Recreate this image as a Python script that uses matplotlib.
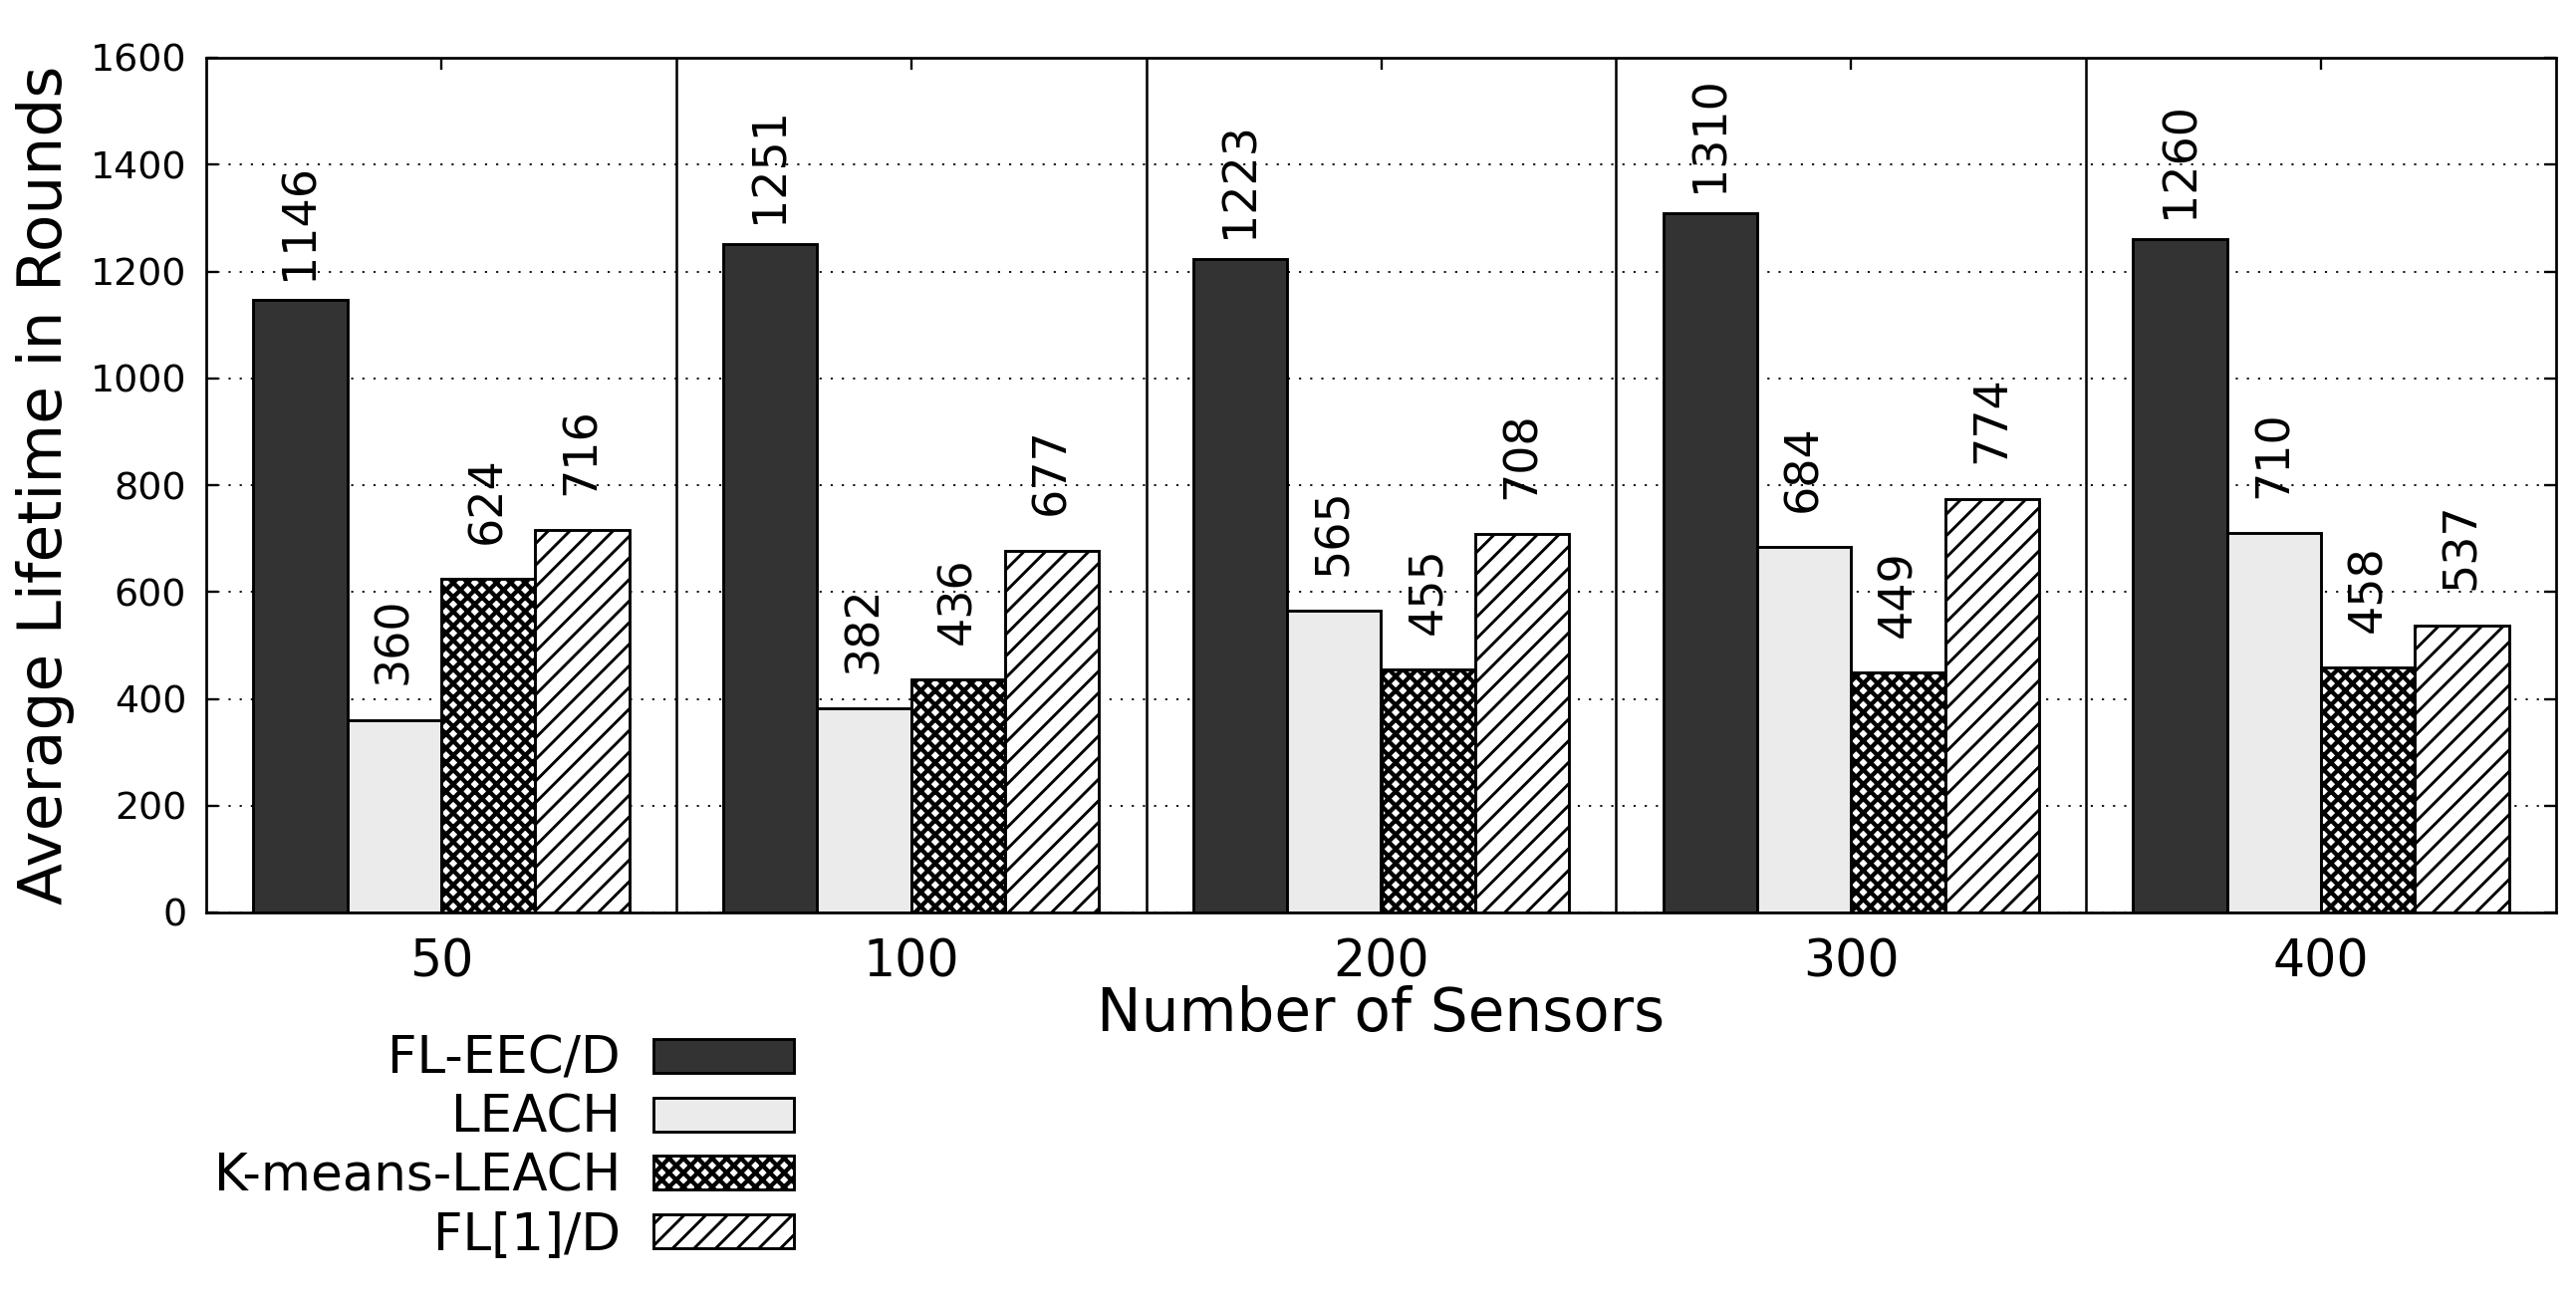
import matplotlib
matplotlib.use("Agg")
import matplotlib.pyplot as plt
import numpy as np

categories = ["50", "100", "200", "300", "400"]
series_names = ["FL-EEC/D", "LEACH", "K-means-LEACH", "FL[1]/D"]
fl_eec_d = [1146, 1251, 1223, 1310, 1260]
leach = [360, 382, 565, 684, 710]
kmeans_leach = [624, 436, 455, 449, 458]
fl1_d = [716, 677, 708, 774, 537]
yticks = [0, 200, 400, 600, 800, 1000, 1200, 1400, 1600]

DPI = 130
W, H = 2586, 1307
plt.rcParams["font.family"] = ["DejaVu Sans"]

fig = plt.figure(figsize=(W / DPI, H / DPI), dpi=DPI)
ax = fig.add_axes([207 / W, 1 - 916 / H, (2566 - 207) / W, (916 - 58) / H])

series = [fl_eec_d, leach, kmeans_leach, fl1_d]
faces = ["#333333", "#ebebeb", "white", "white"]
hatches = [None, None, "xxx", "//"]
hatch_lws = [1.6, 1.6, 2.4, 1.6]
width = 0.2
x = np.arange(len(categories))
offsets = [-1.5, -0.5, 0.5, 1.5]

for vals, name, fc, ht, hlw, off in zip(series, series_names, faces, hatches,
                                         hatch_lws, offsets):
    with plt.rc_context({"hatch.linewidth": hlw}):
        bars = ax.bar(x + off * width, vals, width, color=fc, edgecolor="black",
                      linewidth=1.6, hatch=ht, label=name, zorder=2)
    for p in bars.patches:
        if hasattr(p, "set_hatch_linewidth"):
            p.set_hatch_linewidth(hlw)
    for xi, v in zip(x + off * width, vals):
        ax.text(xi, v + 148, str(v), rotation=90, ha="center", va="center",
                fontsize=25.5, zorder=4)

for b in np.arange(0.5, len(categories) - 0.5, 1.0):
    ax.axvline(b, color="black", linewidth=1.4, zorder=3)

ax.set_xlim(-0.5, len(categories) - 0.5)
ax.set_ylim(0, 1600)
ax.set_yticks(yticks)
ax.set_xticks(x)
ax.set_xticklabels(categories)
ax.yaxis.grid(True, linestyle=(0, (1.2, 5)), color="black", linewidth=1.0, zorder=0)
ax.set_axisbelow(True)

ax.tick_params(axis="both", direction="in", top=True, right=True,
               length=6.5, width=1.3)
ax.tick_params(axis="y", labelsize=21, pad=11)
ax.tick_params(axis="x", labelsize=28, pad=14)
for s in ax.spines.values():
    s.set_linewidth(1.5)

ax.set_xlabel("Number of Sensors", fontsize=33)
ax.xaxis.set_label_coords(0.5, -0.085)
ax.set_ylabel("Average Lifetime in Rounds", fontsize=34)
ax.yaxis.set_label_coords(-0.056, 0.5)

with plt.rc_context({"hatch.linewidth": 1.6}):
    leg = ax.legend(loc="upper right", bbox_to_anchor=(797 / W, 1 - 1039 / H),
                    bbox_transform=fig.transFigure, frameon=False, markerfirst=False,
                    fontsize=28.5, handlelength=2.74, handleheight=0.64,
                    handletextpad=0.64, labelspacing=0.17, borderpad=0,
                    borderaxespad=0)
for h, hlw in zip(leg.legend_handles, hatch_lws):
    if hasattr(h, "set_hatch_linewidth"):
        h.set_hatch_linewidth(hlw)

fig.savefig("out.png", dpi=DPI)
